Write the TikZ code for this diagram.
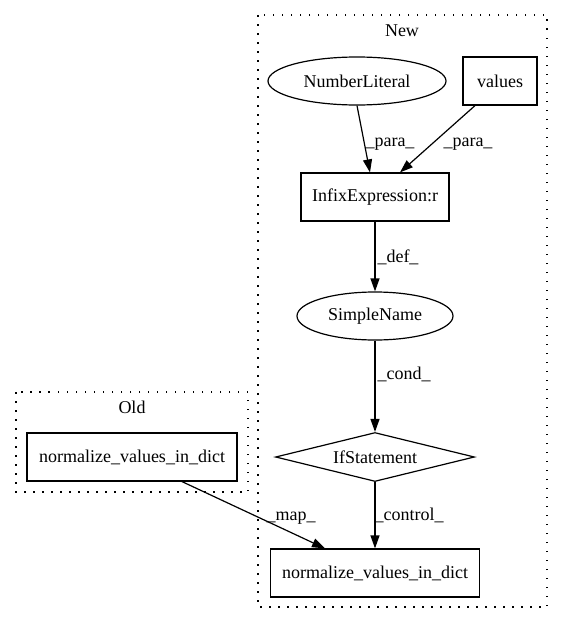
\documentclass[tikz,border=0pt]{standalone}
\usepackage{fontspec}
\setmainfont{Liberation Serif}
\usetikzlibrary{shapes.geometric,arrows.meta}

\begin{document}
\begin{tikzpicture}[x=1pt,y=-1pt,>={Triangle[length=13pt,width=9pt]},line width=1.2pt,
  font=\fontsize{18}{20}\selectfont,
  ellnode/.style={shape=ellipse,draw,inner sep=0pt,minimum height=48pt},
  boxnode/.style={shape=rectangle,draw,inner sep=0pt,minimum height=48pt},
  diamnode/.style={shape=diamond,draw,aspect=4,inner sep=0pt,minimum width=199pt,minimum height=49pt},
  cluster/.style={draw,dash pattern=on 1.5pt off 7.5pt},
  elabel/.style={anchor=base}]
\useasboundingbox (0,0) rectangle (563,624);
% clusters
\draw [cluster] (258,15) rectangle (547,607);
\node (newlabel) at (402,31) {New};
\draw [cluster] (16,392) rectangle (248,492);
\node (oldlabel) at (132,407) {Old};
% nodes
\node (numlit)     at (357,81)  [ellnode,minimum width=178pt] {NumberLiteral};
\node (values)     at (500,81)  [boxnode,minimum width=74pt] {values};
\node (infix)      at (375,197) [boxnode,minimum width=148pt] {InfixExpression:r};
\node (simplename) at (375,316) [ellnode,minimum width=156pt] {SimpleName};
\node (ifstmt)     at (375,457) [diamnode] {IfStatement};
\node (normnew)    at (375,573) [boxnode,minimum width=209pt] {normalize\_values\_in\_dict};
\node (normold)    at (132,457) [boxnode,minimum width=210pt] {normalize\_values\_in\_dict};
% edges
\draw [->] (numlit.south) -- ([xshift=-5pt]infix.north);
\draw [->] ([xshift=-25pt]values.south) -- ([xshift=25pt]infix.north);
\draw [->] (infix) -- (simplename);
\draw [->] (simplename) -- (ifstmt);
\draw [->] (ifstmt) -- (normnew);
\draw [->] ([xshift=50pt]normold.south) -- ([xshift=-50pt]normnew.north);
% edge labels
\node (para1)   at (390,146) [elabel] {\_para\_};
\node (para2)   at (468,146) [elabel] {\_para\_};
\node (def)     at (398,262) [elabel] {\_def\_};
\node (cond)    at (404,379) [elabel] {\_cond\_};
\node (control) at (409,520) [elabel] {\_control\_};
\node (map)     at (291,520) [elabel] {\_map\_};
\end{tikzpicture}
\end{document}
